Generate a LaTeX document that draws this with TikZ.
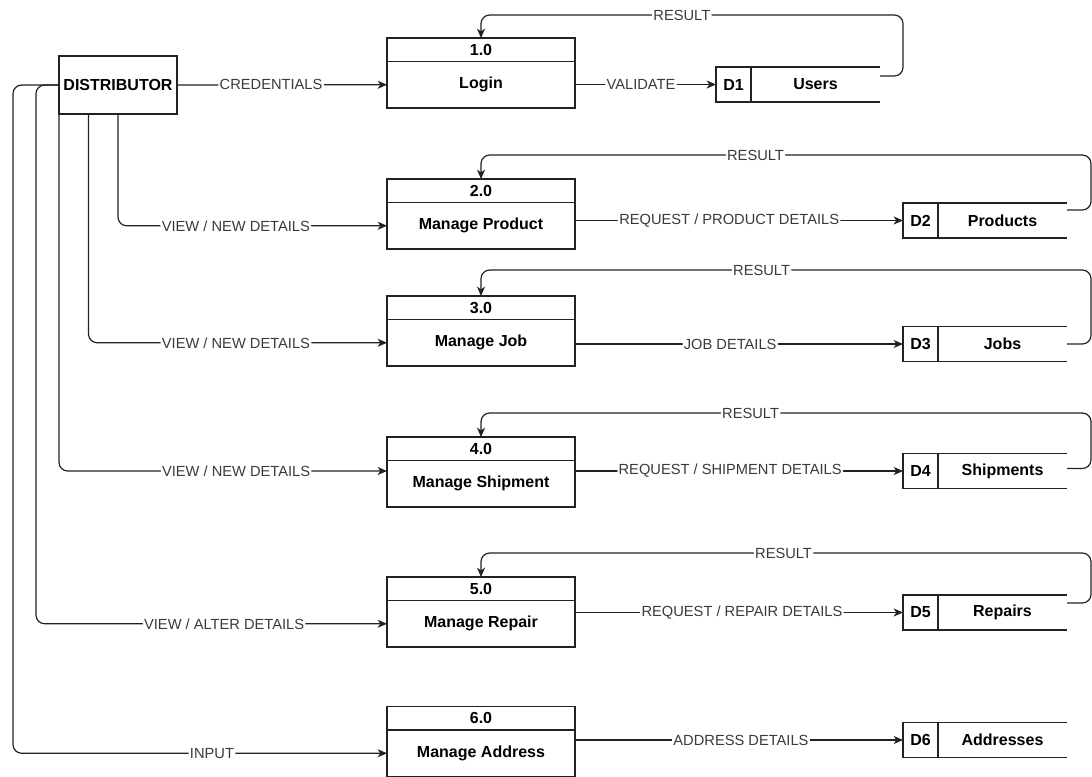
\documentclass[tikz,border=0pt]{standalone}
\usepackage{fontspec}
\setmainfont{Liberation Sans}
\usetikzlibrary{arrows.meta,calc,positioning}
\definecolor{ink}{HTML}{222222}
\definecolor{lblgrey}{HTML}{3A3A3A}

\begin{document}
\begin{tikzpicture}[x=0.75pt,y=-0.75pt,
  every node/.style={inner sep=0pt, outer sep=0pt},
  box/.style={draw=ink, line width=0.9pt, fill=white, text=black,
              font=\bfseries\fontsize{12}{14}\selectfont},
  prochead/.style={box, minimum width=141pt, minimum height=17.6pt},
  procbody/.style={box, minimum width=141pt, minimum height=34.9pt},
  store/.style={minimum width=123pt, minimum height=26.25pt},
  storetxt/.style={text=black, font=\bfseries\fontsize{12}{14}\selectfont},
  storeline/.style={draw=ink, line width=0.9pt},
  flow/.style={draw=ink, line width=0.9pt, rounded corners=6.5pt,
               -{Stealth[length=7pt,width=6pt,inset=2pt]}},
  lbl/.style={fill=white, text=lblgrey, font=\fontsize{11}{13}\selectfont, inner sep=1pt},
]
\useasboundingbox (0,0) rectangle (1092,776);

% external entity
\node[box, minimum width=88.5pt, minimum height=43.5pt] (dist) at (118,85) {DISTRIBUTOR};

% processes: number strip on top, name below
\node[prochead] (p1h) at (481,49.75) {1.0};
\node[procbody, below=0pt of p1h] (p1) {Login};
\node[prochead] (p2h) at (481,190.75) {2.0};
\node[procbody, below=0pt of p2h] (p2) {Manage Product};
\node[prochead] (p3h) at (481,307.75) {3.0};
\node[procbody, below=0pt of p3h] (p3) {Manage Job};
\node[prochead] (p4h) at (481,448.75) {4.0};
\node[procbody, below=0pt of p4h] (p4) {Manage Shipment};
\node[prochead] (p5h) at (481,588.75) {5.0};
\node[procbody, below=0pt of p5h] (p5) {Manage Repair};
\node[prochead] (p6h) at (481,718.25) {6.0};
\node[procbody, below=0pt of p6h] (p6) {Manage Address};

% data stores (open on the right)
\node[store] (d1) at (798,84.5) {};
\node[store] (d2) at (985,220.5) {};
\node[store] (d3) at (985,344) {};
\node[store] (d4) at (985,471) {};
\node[store] (d5) at (985,612.5) {};
\node[store] (d6) at (985,740) {};
\foreach \s/\id/\nm in {d1/D1/Users, d2/D2/Products, d3/D3/Jobs,
                        d4/D4/Shipments, d5/D5/Repairs, d6/D6/Addresses} {
  \draw[storeline] (\s.north east) -- (\s.north west) -- (\s.south west) -- (\s.south east);
  \draw[storeline] ($(\s.north west)+(35,0)$) -- ($(\s.south west)+(35,0)$);
  \node[storetxt] (\s-id) at ($(\s.west)+(17.5,0)$) {\id};
  \node[storetxt] (\s-nm) at ($(\s.center)+(17.5,0)$) {\nm};
}

% bends of the two flows leaving the entity on its left side
\coordinate (bus5) at (36,85);
\coordinate (bus6) at (13,85);

% entity -> processes
\draw[flow] (dist.east) -- node[lbl,pos=0.448]{CREDENTIALS} (p1.west);
\draw[flow] (dist.south) |- node[lbl,pos=0.719]{VIEW / NEW DETAILS} (p2.west);
\draw[flow] ($(dist.south west)!0.25!(dist.south east)$) |- node[lbl,pos=0.747]{VIEW / NEW DETAILS} (p3.west);
\draw[flow] (dist.south west) |- node[lbl,pos=0.77]{VIEW / NEW DETAILS} (p4.west |- d4.west);
\draw[flow] (dist.west) -- (bus5) |- node[lbl,pos=0.768]{VIEW / ALTER DETAILS} (p5.west);
\draw[flow] (dist.west) -- (bus6) |- node[lbl,pos=0.766]{INPUT} (p6.west);

% processes -> data stores
\draw[flow] (p1.east |- d1.west) -- node[lbl,pos=0.468]{VALIDATE} (d1.west);
\draw[flow] (p2.east |- d2.west) -- node[lbl,pos=0.47]{REQUEST / PRODUCT DETAILS} (d2.west);
\draw[flow] (p3.east |- d3.west) -- node[lbl,pos=0.473]{JOB DETAILS} (d3.west);
\draw[flow] (p4.east |- d4.west) -- node[lbl,pos=0.473]{REQUEST / SHIPMENT DETAILS} (d4.west);
\draw[flow] (p5.east |- d5.west) -- node[lbl,pos=0.509]{REQUEST / REPAIR DETAILS} (d5.west);
\draw[flow] (p6.east |- d6.west) -- node[lbl,pos=0.506]{ADDRESS DETAILS} (d6.west);

% results returned from the stores
\coordinate (t1) at (903,15);
\coordinate (t2) at (1091,155);
\coordinate (t3) at (1091,270);
\coordinate (t4) at (1091,413);
\coordinate (t5) at (1091,553);
\draw[flow] ($(d1.north east)+(0,9)$) -| (t1) -| node[lbl,pos=0.262]{RESULT} (p1h.north);
\draw[flow] ($(d2.north east)+(0,7)$) -| (t2) -| node[lbl,pos=0.275]{RESULT} (p2h.north);
\draw[flow] (d3.east) -| (t3) -| node[lbl,pos=0.27]{RESULT} (p3h.north);
\draw[flow] ($(d4.north east)+(0,15)$) -| (t4) -| node[lbl,pos=0.279]{RESULT} (p4h.north);
\draw[flow] ($(d5.north east)+(0,8)$) -| (t5) -| node[lbl,pos=0.252]{RESULT} (p5h.north);
\end{tikzpicture}
\end{document}
